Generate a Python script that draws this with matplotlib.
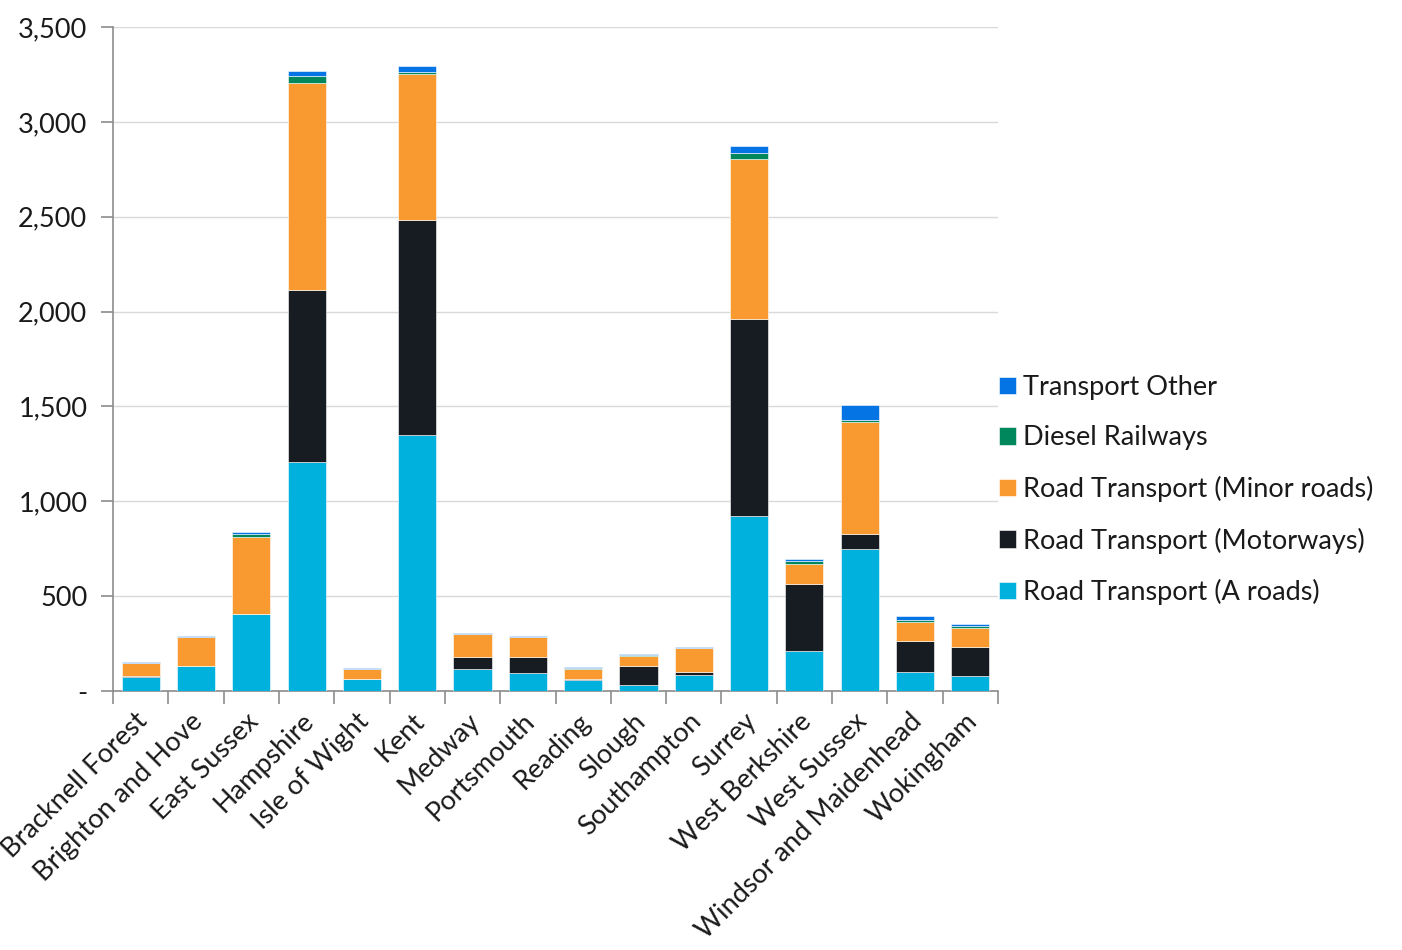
import matplotlib
matplotlib.use("Agg")
import matplotlib.pyplot as plt
import matplotlib.transforms as mtransforms
from matplotlib.ticker import FuncFormatter, FixedLocator
import numpy as np

plt.rcParams['font.family'] = ['Lato', 'DejaVu Sans']

areas = ["Bracknell Forest", "Brighton and Hove", "East Sussex", "Hampshire",
         "Isle of Wight", "Kent", "Medway", "Portsmouth", "Reading", "Slough",
         "Southampton", "Surrey", "West Berkshire", "West Sussex",
         "Windsor and Maidenhead", "Wokingham"]

a_roads   = [73, 133, 405, 1205, 65, 1347, 114, 95, 56, 33, 83, 921, 211, 747, 100, 77]
motorways = [6, 0, 0, 911, 0, 1137, 65, 84, 9, 99, 17, 1042, 354, 79, 165, 156]
minor     = [68, 152, 409, 1089, 52, 770, 119, 104, 51, 51, 126, 842, 103, 591, 97, 100]
diesel    = [1, 1, 14, 37, 1, 7, 2, 1, 7, 8, 2, 33, 18, 11, 12, 11]
other     = [3, 3, 9, 26, 3, 34, 4, 4, 5, 4, 4, 36, 12, 81, 19, 9]

series = [
    ("Road Transport (A roads)", a_roads, "#00b0dd"),
    ("Road Transport (Motorways)", motorways, "#171b22"),
    ("Road Transport (Minor roads)", minor, "#f89a2f"),
    ("Diesel Railways", diesel, "#00875b"),
    ("Transport Other", other, "#0474e4"),
]

fig = plt.figure(figsize=(14.02, 9.5), dpi=100)
ax = fig.add_axes([113 / 1402, 1 - 691 / 950, (998 - 113) / 1402, (691 - 27) / 950])

x = np.arange(len(areas))
bottom = np.zeros(len(areas))
handles = []
for label, vals, color in series:
    vals = np.array(vals, dtype=float)
    h = ax.bar(x, vals, width=0.69, bottom=bottom, color=color, label=label,
               edgecolor="white", linewidth=0.4, zorder=3)
    handles.append(h)
    bottom += vals

ax.set_xlim(-0.5, len(areas) - 0.5)
ax.set_ylim(0, 3500)
ax.set_yticks(np.arange(0, 3501, 500))
ax.yaxis.set_major_formatter(FuncFormatter(lambda v, p: "-" if v == 0 else f"{int(v):,}"))
ax.grid(axis="y", color="#d9d9d9", linewidth=1.0, zorder=0)

# category tick marks sit between the bars; labels centred under each bar
ax.xaxis.set_major_locator(FixedLocator(np.arange(-0.5, len(areas), 1.0)))
ax.xaxis.set_major_formatter(FuncFormatter(lambda v, p: ""))
ax.xaxis.set_minor_locator(FixedLocator(x))
ax.set_xticklabels(areas, minor=True, rotation=45, ha="right", va="center",
                   rotation_mode="anchor", fontsize=19.5, color="#1a1a1a")
ax.tick_params(axis="x", which="minor", length=0, pad=19)
ax.tick_params(axis="x", which="major", length=9, width=1.2, color="#8c8c8c", direction="out")
ax.tick_params(axis="y", length=9, width=1.2, color="#8c8c8c", labelsize=19.5,
               labelcolor="#1a1a1a", pad=9.5)

offset = mtransforms.ScaledTranslation(3 / 100, 0, fig.dpi_scale_trans)
for lbl in ax.get_xticklabels(minor=True):
    lbl.set_transform(lbl.get_transform() + offset)

for side in ("top", "right"):
    ax.spines[side].set_visible(False)
for side in ("left", "bottom"):
    ax.spines[side].set_color("#8c8c8c")
    ax.spines[side].set_linewidth(1.2)

fig.legend(handles[::-1], [s[0] for s in series][::-1], loc="center left",
           bbox_to_anchor=(988 / 1402, 1 - 490 / 950), frameon=False,
           fontsize=19.5, handlelength=0.62, handleheight=0.62, handletextpad=0.28,
           labelspacing=0.94, borderaxespad=0, labelcolor="#1a1a1a")

fig.savefig("out.png", dpi=100)
